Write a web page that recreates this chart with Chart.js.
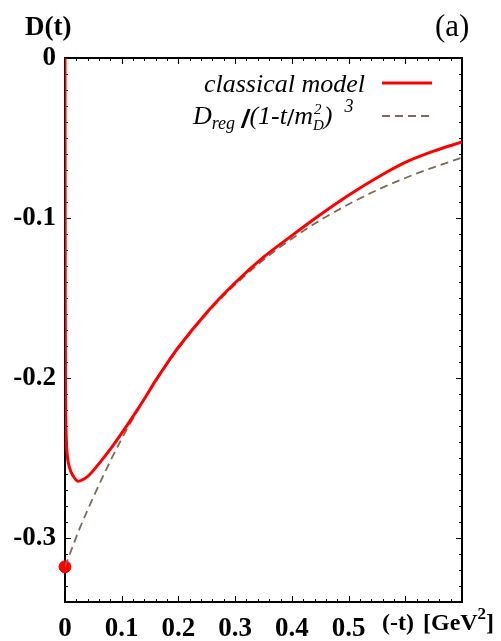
<!DOCTYPE html>
<html>
<head>
<meta charset="utf-8">
<script src="https://cdn.jsdelivr.net/npm/chart.js@4/dist/chart.umd.min.js"></script>
<style>
  html, body { margin: 0; padding: 0; background: #ffffff; }
  #wrap { width: 501px; height: 641px; position: relative; }
</style>
</head>
<body>
<div id="wrap"><canvas id="dChart"></canvas></div>
<script>
// values: -t in GeV^2, D(t)
const classicalT = [0, 0.0004, 0.001, 0.002, 0.004, 0.008, 0.014, 0.023, 0.04, 0.06, 0.08, 0.1, 0.12, 0.14, 0.16, 0.18, 0.2, 0.25, 0.3, 0.35, 0.4, 0.45, 0.5, 0.55, 0.6, 0.65, 0.7]
const classicalD = [0, -0.15, -0.21, -0.235, -0.248, -0.256, -0.261, -0.2645, -0.2615, -0.2535, -0.2445, -0.2345, -0.224, -0.213, -0.2015, -0.1908, -0.1808, -0.159, -0.1405, -0.1245, -0.111, -0.098, -0.0858, -0.0748, -0.0652, -0.0582, -0.0525]

const dipoleT = [0, 0.025, 0.05, 0.075, 0.1, 0.125, 0.15, 0.175, 0.2, 0.25, 0.3, 0.35, 0.4, 0.45, 0.5, 0.55, 0.6, 0.65, 0.7]
const dipoleD = [-0.318, -0.2948, -0.2745, -0.2555, -0.238, -0.2222, -0.2075, -0.194, -0.1815, -0.1598, -0.1417, -0.1262, -0.1129, -0.1014, -0.0914, -0.0826, -0.075, -0.0683, -0.0623]

const pointT = [0]
const pointD = [-0.318]

const xTickValues = [0, 0.1, 0.2, 0.3, 0.4, 0.5]
const yTickValues = [0, -0.1, -0.2, -0.3]

const serif = "'Liberation Serif', 'Times New Roman', serif"
const dashColor = '#7b6b58'

const toXY = (xs, ys) => xs.map((x, i) => ({x: x, y: ys[i]}))

// frame with inward ticks on all four sides
const framePlugin = {
    id: 'frame',
    beforeDatasetsDraw(chart) {
        const {ctx, chartArea: a, scales} = chart
        const xs = scales.x, ys = scales.y
        ctx.save()
        ctx.strokeStyle = '#000'
        ctx.lineWidth = 1
        for (let i = 0; i <= 35; i++) {
            const v = i * 0.02
            const px = Math.round(xs.getPixelForValue(v)) + 0.5
            const len = i % 5 === 0 ? 6 : 3
            ctx.beginPath()
            ctx.moveTo(px, a.bottom); ctx.lineTo(px, a.bottom - len)
            ctx.moveTo(px, a.top); ctx.lineTo(px, a.top + len)
            ctx.stroke()
        }
        for (let i = 0; i <= 34; i++) {
            const v = -i * 0.01
            const py = Math.round(ys.getPixelForValue(v)) + 0.5
            const len = i % 10 === 0 ? 6 : 3
            ctx.beginPath()
            ctx.moveTo(a.left, py); ctx.lineTo(a.left + len, py)
            ctx.moveTo(a.right, py); ctx.lineTo(a.right - len, py)
            ctx.stroke()
        }
        ctx.lineWidth = 2
        ctx.strokeRect(a.left, a.top, a.right - a.left, a.bottom - a.top)
        ctx.restore()
    },
    afterDraw(chart) {
        const ctx = chart.ctx
        ctx.save()
        ctx.fillStyle = '#000'
        ctx.textBaseline = 'alphabetic'

        // axis titles
        ctx.font = 'bold 27px ' + serif
        ctx.fillText('D(t)', 25, 35)
        ctx.font = '31px ' + serif
        ctx.fillText('(a)', 435, 36)

        let x = 382
        ctx.font = 'bold 24px ' + serif
        ctx.fillText('(-t)', x, 630)
        x += ctx.measureText('(-t)').width + 9
        ctx.fillText('[GeV', x, 630)
        x += ctx.measureText('[GeV').width
        ctx.font = 'bold 17px ' + serif
        ctx.fillText('2', x, 619)
        x += ctx.measureText('2').width
        ctx.font = 'bold 24px ' + serif
        ctx.fillText(']', x, 630)

        // legend
        ctx.font = 'italic 26px ' + serif
        ctx.textAlign = 'right'
        ctx.fillText('classical model', 365, 92)
        ctx.textAlign = 'left'

        x = 193
        const base = 124
        ctx.font = 'italic 26px ' + serif
        ctx.fillText('D', x, base)
        x += ctx.measureText('D').width
        ctx.font = 'italic 18px ' + serif
        ctx.fillText('reg', x, base + 5)
        x += ctx.measureText('reg').width + 6
        ctx.font = 'bold 30px ' + serif
        ctx.fillText('/', x, base + 4)
        ctx.fillText('/', x + 0.8, base + 4)
        x += ctx.measureText('/').width
        ctx.font = 'italic 26px ' + serif
        ctx.fillText('(1-t', x, base)
        x += ctx.measureText('(1-t').width
        ctx.font = 'bold 26px ' + serif
        ctx.fillText('/', x, base + 2)
        x += ctx.measureText('/').width
        ctx.font = 'italic 26px ' + serif
        ctx.fillText('m', x, base)
        x += ctx.measureText('m').width
        ctx.font = 'italic 15px ' + serif
        ctx.fillText('2', x + 1, base - 10)
        ctx.fillText('D', x, base + 6)
        x += ctx.measureText('D').width
        ctx.font = 'italic 26px ' + serif
        ctx.fillText(')', x, base)
        x += ctx.measureText(')').width + 12
        ctx.font = 'italic 18px ' + serif
        ctx.fillText('3', x, base - 12)

        ctx.lineWidth = 3
        ctx.strokeStyle = '#ff0000'
        ctx.beginPath(); ctx.moveTo(382, 83); ctx.lineTo(432, 83); ctx.stroke()
        ctx.lineWidth = 1.8
        ctx.strokeStyle = dashColor
        ctx.setLineDash([8, 5])
        ctx.beginPath(); ctx.moveTo(382, 116); ctx.lineTo(432, 116); ctx.stroke()
        ctx.restore()
    }
}

const tickFont = {family: serif, size: 27, weight: 'bold'}

const dChart = new Chart(document.getElementById('dChart'), {
    type: 'scatter',
    data: {
        datasets: [
            {
                label: 'classical model',
                data: toXY(classicalT, classicalD),
                showLine: true,
                borderColor: '#ff0000',
                borderWidth: 3,
                pointRadius: 0,
                cubicInterpolationMode: 'monotone',
            },
            {
                label: 'D_reg/(1-t/m_D^2)^3',
                data: toXY(dipoleT, dipoleD),
                showLine: true,
                borderColor: dashColor,
                borderWidth: 1.8,
                borderDash: [8, 5],
                pointRadius: 0,
                cubicInterpolationMode: 'monotone',
            },
            {
                label: 'D(0)',
                data: toXY(pointT, pointD),
                pointRadius: 6,
                backgroundColor: '#ff0000',
                borderColor: '#ff0000',
                clip: false,
            }
        ]
    },
    options: {
        responsive: true,
        maintainAspectRatio: false,
        animation: false,
        layout: {padding: {left: 0, top: 58, right: 39, bottom: 0}},
        plugins: {legend: {display: false}, tooltip: {enabled: false}},
        scales: {
            x: {
                type: 'linear',
                min: 0,
                max: 0.7,
                grid: {display: false, drawTicks: false},
                border: {display: false},
                afterBuildTicks: s => { s.ticks = xTickValues.map(v => ({value: v})) },
                afterFit: s => { s.height = 39 },
                ticks: {
                    color: '#000',
                    font: tickFont,
                    padding: 11,
                    maxRotation: 0,
                    callback: v => String(v)
                }
            },
            y: {
                type: 'linear',
                min: -0.34,
                max: 0,
                grid: {display: false, drawTicks: false},
                border: {display: false},
                afterBuildTicks: s => { s.ticks = yTickValues.map(v => ({value: v})) },
                afterFit: s => { s.width = 65 },
                ticks: {
                    color: '#000',
                    font: tickFont,
                    padding: 9,
                    callback: v => String(v)
                }
            }
        }
    },
    plugins: [framePlugin]
});
</script>
</body>
</html>
